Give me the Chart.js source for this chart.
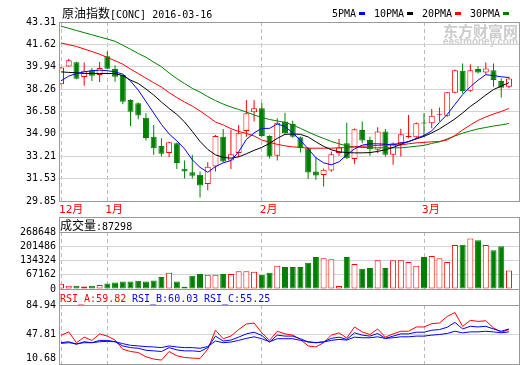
<!DOCTYPE html>
<html>
<head>
<meta charset="utf-8">
<script src="https://cdn.jsdelivr.net/npm/chart.js"></script>
<style>
  html, body { margin: 0; padding: 0; background: #fff; overflow: hidden; width: 520px; height: 365px; }
  canvas { position: absolute; left: 0; }
  .t { position: absolute; white-space: nowrap; font-family: 'DejaVu Sans Mono', monospace; font-size: 10px; line-height: 12px; color: #000; z-index: 2; }
  .c { font-family: 'Noto Sans CJK SC', sans-serif; font-size: 12px; }
  .sw { position: absolute; top: 12px; width: 6px; height: 3px; z-index: 2; }
</style>
</head>
<body>
<canvas id="kChart" width="520" height="216" style="top:0"></canvas>
<canvas id="volChart" width="520" height="90" style="top:217px"></canvas>
<canvas id="rsiChart" width="520" height="90" style="top:289px"></canvas>

<!-- titre + légende -->
<div class="t" style="left:62px;top:7px"><span class="c">原油指数</span>[CONC] 2016-03-16</div>
<div class="t" style="left:332px;top:8px">5PMA</div><div class="sw" style="left:359px;background:#0000ff"></div>
<div class="t" style="left:374px;top:8px">10PMA</div><div class="sw" style="left:407px;background:#000"></div>
<div class="t" style="left:422px;top:8px">20PMA</div><div class="sw" style="left:455px;background:#ff0000"></div>
<div class="t" style="left:470px;top:8px">30PMA</div><div class="sw" style="left:503px;background:#008000"></div>

<!-- filigrane -->
<div class="t" style="left:443px;top:23px;font:bold 15px/15px 'Noto Sans CJK SC';color:#cccccc;z-index:1">东方财富网</div>
<div class="t" style="left:443px;top:37px;font:bold 10px/10px 'Liberation Sans';color:#cccccc;z-index:1">eastmoney.com</div>

<div class="t" style="left:60px;top:219px"><span class="c">成交量</span>:<span id="lastVol"></span></div>
<div class="t" style="left:60px;top:293px;color:#ff0000">RSI_A:59.82</div>
<div class="t" style="left:132px;top:293px;color:#0000ff">RSI_B:60.03</div>
<div class="t" style="left:204px;top:293px;color:#0000ff">RSI_C:55.25</div>

<script>
  // Bougies
  const opens = [38.62, 39.97, 40.29, 39.17, 39.69, 39.32, 40.74, 39.77, 39.32, 37.44,
    37.20, 36.11, 34.69, 33.99, 33.45, 34.20, 32.27, 32.02, 31.82, 31.12,
    32.44, 34.69, 32.89, 33.45, 35.12, 36.52, 36.82, 34.74, 33.25, 35.82,
    35.64, 34.65, 33.82, 32.07, 31.80, 32.14, 33.45, 34.20, 33.00, 35.19,
    34.44, 33.70, 35.07, 33.32, 34.20, 34.67, 34.65, 35.72, 35.70, 36.34,
    36.26, 37.99, 39.64, 38.14, 39.77, 39.52, 39.69, 38.87, 38.44];
  const closes = [39.89, 40.44, 39.04, 39.64, 39.26, 39.86, 39.79, 39.19, 37.31, 36.56,
    36.27, 34.59, 33.82, 33.40, 34.27, 32.70, 32.07, 31.75, 31.02, 32.42,
    34.74, 32.82, 33.37, 34.95, 36.45, 36.82, 34.74, 33.19, 35.74, 34.95,
    34.69, 33.82, 31.99, 31.77, 32.20, 33.37, 33.87, 33.07, 35.25, 34.39,
    33.75, 35.07, 33.32, 34.20, 34.87, 34.72, 35.70, 35.67, 36.26, 36.37,
    38.02, 39.69, 38.12, 39.69, 39.52, 39.82, 38.94, 38.36, 39.07];
  const highs = [39.92, 40.54, 40.32, 40.27, 39.86, 40.31, 41.11, 40.06, 39.35, 37.50,
    37.25, 36.45, 35.57, 34.57, 34.30, 34.25, 32.89, 33.32, 32.07, 32.77,
    34.82, 35.27, 35.19, 35.57, 37.44, 37.44, 37.24, 34.80, 36.07, 36.49,
    35.89, 34.70, 33.90, 33.12, 32.30, 33.57, 34.52, 35.74, 35.30, 35.82,
    34.69, 35.40, 35.27, 34.25, 35.29, 36.32, 35.75, 36.44, 36.77, 36.89,
    38.05, 39.74, 40.19, 40.14, 39.99, 40.27, 40.19, 39.07, 39.19];
  const lows = [38.60, 39.95, 39.00, 38.51, 38.87, 38.79, 39.75, 38.81, 37.14, 35.49,
    36.00, 34.39, 33.32, 33.19, 33.15, 32.25, 31.54, 31.54, 30.12, 30.65,
    32.07, 32.74, 32.25, 33.15, 34.69, 35.82, 34.70, 33.04, 32.89, 34.90,
    34.60, 33.49, 31.50, 31.45, 30.94, 32.05, 33.25, 33.00, 32.65, 34.20,
    33.25, 33.45, 33.19, 32.57, 33.19, 34.57, 34.50, 34.82, 35.32, 35.82,
    36.19, 37.95, 37.94, 38.06, 39.44, 39.39, 38.44, 37.64, 38.32];

  // Moyennes mobiles
  const ma5 = [38.89, 39.24, 39.43, 39.56, 39.65, 39.69, 39.65, 39.56, 39.39, 38.87,
    38.19, 37.33, 36.47, 35.61, 34.89, 34.37, 33.77, 32.95, 32.38, 32.01,
    32.44, 32.72, 32.89, 33.55, 34.48, 34.97, 35.31, 35.31, 35.64, 35.46,
    34.97, 34.41, 33.77, 33.10, 32.72, 32.57, 32.80, 33.32, 33.77, 34.05,
    34.15, 34.15, 34.12, 34.07, 34.22, 34.30, 34.56, 34.78, 35.12, 35.76,
    36.36, 37.11, 37.85, 38.44, 38.94, 39.35, 39.28, 39.19, 39.14];
  const ma10 = [39.56, 39.52, 39.49, 39.44, 39.44, 39.44, 39.44, 39.43, 39.28, 38.94,
    38.69, 38.27, 37.82, 37.29, 36.81, 36.36, 35.79, 35.08, 34.33, 33.73,
    33.32, 33.13, 33.07, 33.17, 33.40, 33.66, 33.88, 34.18, 34.56, 34.86,
    34.89, 34.86, 34.67, 34.30, 33.96, 33.70, 33.55, 33.49, 33.47, 33.47,
    33.49, 33.58, 33.70, 33.88, 34.11, 34.33, 34.52, 34.71, 34.97, 35.27,
    35.64, 36.02, 36.47, 36.96, 37.37, 37.82, 38.23, 38.49, 38.75];
  const ma20 = [41.74, 41.60, 41.47, 41.28, 41.09, 40.89, 40.64, 40.40, 40.14, 39.77,
    39.43, 39.09, 38.75, 38.42, 38.00, 37.63, 37.29, 36.99, 36.62, 36.21,
    35.79, 35.57, 35.29, 35.08, 34.93, 34.74, 34.44, 34.26, 34.11, 34.00,
    33.92, 33.88, 33.82, 33.82, 33.82, 33.82, 33.85, 33.87, 33.92, 33.96,
    34.00, 34.03, 34.07, 34.07, 34.07, 34.15, 34.22, 34.26, 34.30, 34.32,
    34.44, 34.78, 35.19, 35.57, 35.91, 36.17, 36.39, 36.58, 36.81];
  const ma30 = [42.99, 42.84, 42.67, 42.51, 42.35, 42.19, 42.03, 41.86, 41.56, 41.26,
    40.94, 40.66, 40.29, 39.95, 39.47, 39.05, 38.68, 38.32, 38.04, 37.70,
    37.40, 37.14, 36.92, 36.73, 36.54, 36.32, 36.13, 35.98, 35.87, 35.76,
    35.57, 35.31, 35.04, 34.78, 34.56, 34.33, 34.15, 34.00, 33.92, 33.88,
    33.85, 33.85, 33.85, 33.85, 33.85, 33.90, 33.97, 34.03, 34.18, 34.30,
    34.52, 34.74, 34.95, 35.12, 35.27, 35.38, 35.49, 35.57, 35.68];

  // Volumes
  const volumes = [24700, 15400, 15400, 12000, 15400, 18700, 26000, 31000, 35000, 35000,
    38700, 35000, 40000, 57000, 76000, 35000, 10700, 62000, 71000, 67000,
    67000, 71000, 71000, 84000, 84000, 81000, 67000, 77000, 109000, 104000,
    104000, 104000, 124000, 151000, 145000, 140000, 14000, 151000, 118000, 95000,
    99000, 135000, 99000, 135000, 135000, 127000, 109000, 151000, 155000, 145000,
    127000, 207000, 208000, 238000, 230000, 207000, 183000, 202000, 87298];

  // RSI
  const rsiA = [46.6, 51.1, 37.5, 44.5, 40.4, 48.6, 45.8, 40.8, 29.3, 26.4,
    25.1, 19.8, 16.9, 15.6, 26.4, 21.0, 18.9, 18.1, 17.7, 29.3,
    53.2, 42.5, 45.8, 54.0, 61.0, 62.3, 49.9, 40.4, 51.9, 48.6,
    47.0, 41.6, 33.4, 32.1, 37.5, 47.0, 49.9, 43.3, 57.3, 51.1,
    47.8, 54.8, 44.5, 48.6, 51.9, 51.9, 57.3, 57.3, 61.4, 62.3,
    70.5, 75.5, 58.1, 65.6, 64.3, 65.1, 56.1, 50.7, 54.0];
  const rsiB = [37.5, 38.7, 35.4, 38.7, 37.5, 40.4, 40.4, 38.7, 33.4, 31.3,
    30.5, 28.0, 27.2, 26.4, 31.3, 28.4, 27.2, 27.2, 26.4, 31.3,
    45.8, 39.6, 40.8, 44.5, 48.6, 50.7, 46.6, 38.3, 47.0, 45.8,
    45.8, 42.5, 38.3, 37.5, 38.7, 42.9, 44.5, 41.6, 49.9, 47.0,
    45.8, 49.1, 42.9, 45.8, 48.6, 48.6, 50.7, 50.7, 53.2, 54.0,
    56.9, 63.1, 54.8, 58.1, 57.3, 58.1, 54.8, 51.9, 54.8];
  const rsiC = [36.7, 37.5, 36.3, 37.5, 37.5, 38.7, 39.2, 38.7, 36.3, 34.2,
    33.4, 32.6, 32.1, 31.3, 33.4, 32.1, 31.3, 31.3, 30.5, 32.6,
    39.6, 37.5, 38.3, 40.4, 42.9, 44.9, 42.5, 38.7, 42.5, 42.5,
    42.5, 40.4, 38.7, 37.5, 38.3, 40.4, 41.6, 40.8, 44.5, 43.7,
    43.7, 44.9, 42.9, 43.7, 44.9, 44.9, 45.8, 45.8, 47.0, 47.8,
    49.1, 51.9, 49.9, 51.1, 51.1, 51.9, 51.1, 49.9, 51.1];

  // Axes
  const priceTicks = [29.85, 31.53, 33.21, 34.90, 36.58, 38.26, 39.94, 41.62, 43.31];
  const volumeTicks = [0, 67162, 134324, 201486, 268648];
  const rsiTicks = [10.68, 47.81, 84.94];
  const monthTicks = [0, 6, 26, 47];
  const monthLabels = ['12月', '1月', '2月', '3月'];

  const RED = '#ff0000', GREEN = '#008000', BLUE = '#0000ff';
  const up = closes.map((c, i) => c >= opens[i]);
  const pts = arr => arr.map((v, i) => ({ x: i, y: v }));

  document.getElementById('lastVol').textContent = volumes[volumes.length - 1];

  Chart.defaults.font.family = "'DejaVu Sans Mono', 'Noto Sans CJK SC', monospace";
  Chart.defaults.font.size = 10;
  Chart.defaults.color = '#000';
  Chart.defaults.animation = false;
  Chart.defaults.responsive = false;
  Chart.defaults.maintainAspectRatio = false;
  Chart.defaults.events = [];
  Chart.defaults.plugins.legend.display = false;
  Chart.defaults.plugins.tooltip.enabled = false;

  // cadre gris autour de chaque panneau
  Chart.register({
    id: 'frame',
    afterDraw(chart, args, opts) {
      const { ctx, chartArea: a } = chart;
      const head = opts.header || 0;
      ctx.save();
      ctx.strokeStyle = '#999';
      ctx.lineWidth = 1;
      const l = Math.round(a.left) + 0.5, r = Math.round(a.right) + 0.5;
      const t = Math.round(a.top - head) + 0.5, b = Math.round(a.bottom) + 0.5;
      ctx.strokeRect(l, t, r - l, b - t);
      if (head) {
        ctx.beginPath();
        ctx.moveTo(l, Math.round(a.top) + 0.5);
        ctx.lineTo(r, Math.round(a.top) + 0.5);
        ctx.stroke();
      }
      ctx.restore();
    }
  });

  function xAxis(showLabels, h) {
    return {
      type: 'linear', min: -0.26, max: 59.3, offset: false,
      afterBuildTicks: s => { s.ticks = monthTicks.map(v => ({ value: v })); },
      afterFit: s => { s.height = h; },
      grid: { offset: false, color: '#bbbbbb', drawTicks: false, borderDash: [4, 3] },
      border: { display: false, dash: [4, 3] },
      ticks: {
        display: showLabels, autoSkip: false, maxRotation: 0, align: 'start',
        labelOffset: -2, padding: 3, color: RED,
        font: { size: 11 },
        callback: (v, i) => monthLabels[i]
      }
    };
  }

  function yAxis(tickValues, fmt) {
    return {
      min: tickValues[0], max: tickValues[tickValues.length - 1],
      afterBuildTicks: s => { s.ticks = tickValues.map(v => ({ value: v })); },
      afterFit: s => { s.width = 59; },
      grid: { color: '#d4d4d4', drawTicks: false },
      border: { display: false },
      ticks: { autoSkip: false, padding: 3, color: '#000', callback: fmt }
    };
  }

  const maLine = (arr, color) => ({
    type: 'line', order: 0, data: pts(arr), borderColor: color,
    borderWidth: 1, pointRadius: 0, tension: 0, fill: false
  });

  // Graphique principal (bougies + moyennes)
  new Chart(document.getElementById('kChart'), {
    type: 'bar',
    data: {
      datasets: [
        maLine(ma5, BLUE), maLine(ma10, '#000'), maLine(ma20, RED), maLine(ma30, GREEN),
        {
          type: 'bar', order: 1, grouped: false,
          data: opens.map((o, i) => ({ x: i, y: [o, closes[i]] })),
          backgroundColor: up.map(u => u ? '#fff' : GREEN),
          borderColor: up.map(u => u ? RED : GREEN),
          borderWidth: 1, borderSkipped: false, barThickness: 6, minBarLength: 1, inflateAmount: 0
        },
        {
          type: 'bar', order: 2, grouped: false,
          data: lows.map((l, i) => ({ x: i, y: [l, highs[i]] })),
          backgroundColor: up.map(u => u ? RED : GREEN),
          borderWidth: 0, barThickness: 1, inflateAmount: 0
        }
      ]
    },
    options: {
      layout: { padding: { top: 22, right: 1, left: 0, bottom: 0 } },
      scales: { x: xAxis(true, 15), y: yAxis(priceTicks, v => v.toFixed(2)) },
      plugins: { frame: { header: 0 } }
    }
  });

  // Volumes
  new Chart(document.getElementById('volChart'), {
    type: 'bar',
    data: {
      datasets: [{
        grouped: false,
        data: volumes.map((v, i) => ({ x: i, y: v })),
        backgroundColor: up.map(u => u ? '#fff' : GREEN),
        borderColor: up.map(u => u ? RED : GREEN),
        borderWidth: 1, borderSkipped: false, barThickness: 6, inflateAmount: 0
      }]
    },
    options: {
      layout: { padding: { top: 15, right: 1, left: 0, bottom: 0 } },
      scales: { x: xAxis(false, 18), y: yAxis(volumeTicks, v => String(v)) },
      plugins: { frame: { header: 15 } }
    }
  });

  // RSI
  const rsiLine = (arr, color) => ({
    data: pts(arr), borderColor: color, borderWidth: 1, pointRadius: 0, tension: 0, fill: false
  });
  new Chart(document.getElementById('rsiChart'), {
    type: 'line',
    data: { datasets: [rsiLine(rsiC, BLUE), rsiLine(rsiB, BLUE), rsiLine(rsiA, RED)] },
    options: {
      layout: { padding: { top: 16, right: 1, left: 0, bottom: 0 } },
      scales: {
        x: xAxis(false, 14),
        y: yAxis(rsiTicks, (v, i) => i === 0 ? [v.toFixed(2), ''] : v.toFixed(2))
      },
      plugins: { frame: { header: 16 } }
    }
  });
</script>
</body>
</html>
